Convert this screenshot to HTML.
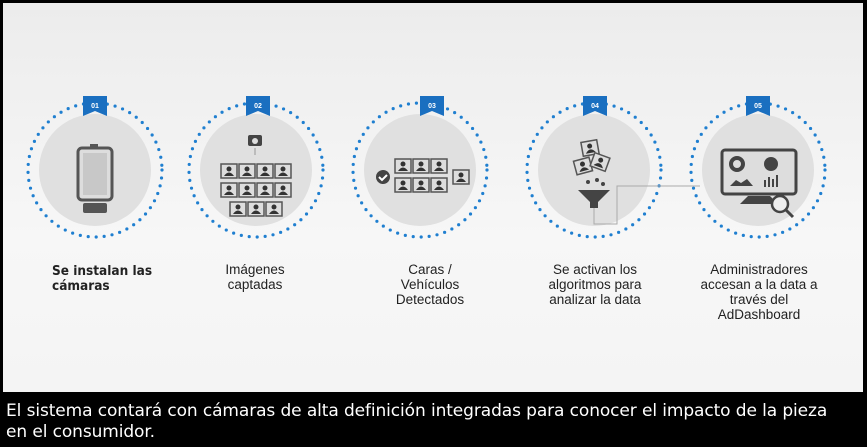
<!DOCTYPE html>
<html><head><meta charset="utf-8"><style>
body{margin:0;width:867px;height:447px;overflow:hidden;background:#000;font-family:"Liberation Sans",sans-serif}
#main{position:absolute;left:3px;top:3px;width:860px;height:389px;background:linear-gradient(#ececec,#f7f7f7 60%,#f4f4f4)}
.lbl{position:absolute;width:150px;text-align:center;font-size:13.5px;line-height:15px;color:#222}
#cap{position:absolute;left:6px;top:401px;color:#fff;font-size:17px;line-height:21px;font-family:"DejaVu Sans","Liberation Sans",sans-serif;letter-spacing:-0.1px}
</style></head><body>
<div id="main"></div>
<svg width="867" height="447" style="position:absolute;left:0;top:0">
<defs>
<g id="ring"><circle r="67" fill="none" stroke="#1f7fd0" stroke-width="3.2" stroke-linecap="round" stroke-dasharray="0 8"/><circle r="56" fill="#e0e0e0"/></g>
<g id="rib"><path d="M-12,-11 H12 V9 L0,4 L-12,9Z" fill="#1a6fc0"/></g>
<g id="ph"><rect x="-8" y="-7" width="16" height="14" fill="#ddd" stroke="#555" stroke-width="1.5"/><circle cx="0" cy="-2" r="2.5" fill="#333"/><path d="M-5,5 Q0,-2 5,5Z" fill="#333"/></g>
</defs>
<use href="#ring" x="95" y="170"/><use href="#ring" x="256" y="170"/><use href="#ring" x="420" y="170"/><use href="#ring" x="594" y="170"/><use href="#ring" x="758" y="170"/>
<g font-size="7" font-weight="bold" fill="#fff" text-anchor="middle">
<use href="#rib" x="95" y="107"/><text x="95" y="108">01</text>
<use href="#rib" x="258" y="107"/><text x="258" y="108">02</text>
<use href="#rib" x="432" y="107"/><text x="432" y="108">03</text>
<use href="#rib" x="595" y="107"/><text x="595" y="108">04</text>
<use href="#rib" x="758" y="107"/><text x="758" y="108">05</text>
</g>
<rect x="78" y="148" width="34" height="52" rx="4" fill="#ddd" stroke="#555" stroke-width="3"/>
<rect x="83" y="153" width="24" height="42" fill="#c8c8c8"/>
<rect x="90" y="144" width="8" height="5" fill="#555"/>
<rect x="83" y="203" width="24" height="10" rx="2" fill="#555"/>
<rect x="248" y="135" width="14" height="11" rx="2" fill="#444"/><circle cx="255" cy="141" r="3" fill="#ddd"/>
<path d="M255,148 V155" stroke="#999"/>
<use href="#ph" x="229" y="171"/><use href="#ph" x="247" y="171"/><use href="#ph" x="265" y="171"/><use href="#ph" x="283" y="171"/>
<use href="#ph" x="229" y="190"/><use href="#ph" x="247" y="190"/><use href="#ph" x="265" y="190"/><use href="#ph" x="283" y="190"/>
<use href="#ph" x="238" y="209"/><use href="#ph" x="256" y="209"/><use href="#ph" x="274" y="209"/>
<circle cx="383" cy="177" r="7" fill="#444"/><path d="M379,177 l3,3 l5,-5" stroke="#fff" stroke-width="2" fill="none"/>
<use href="#ph" x="403" y="166"/><use href="#ph" x="421" y="166"/><use href="#ph" x="439" y="166"/>
<use href="#ph" x="403" y="185"/><use href="#ph" x="421" y="185"/><use href="#ph" x="439" y="185"/><use href="#ph" x="461" y="177"/>
<use href="#ph" x="590" y="148" transform="rotate(-10 590 148)"/><use href="#ph" x="583" y="166" transform="rotate(-15 583 166)"/><use href="#ph" x="600" y="162" transform="rotate(20 600 162)"/>
<path d="M578,190 H610 L598,202 V208 H590 V202Z" fill="#444"/>
<circle cx="588" cy="182" r="2" fill="#444"/><circle cx="597" cy="180" r="2" fill="#444"/><circle cx="603" cy="184" r="2" fill="#444"/>
<path d="M594,208 V224 H617 V186 H700" stroke="#aaa" fill="none"/>
<rect x="722" y="150" width="74" height="44" rx="3" fill="#ddd" stroke="#444" stroke-width="3"/>
<path d="M748,196 L740,204 H778 L770,196Z" fill="#444"/>
<circle cx="737" cy="164" r="6" fill="none" stroke="#444" stroke-width="4"/><circle cx="771" cy="164" r="7" fill="#444"/>
<path d="M730,186 l6,-6 l5,3 l6,-4 l6,7Z" fill="#444"/><path d="M765,187 V180 M769,187 V177 M773,187 V179 M777,187 V175" stroke="#444" stroke-width="2"/>
<circle cx="780" cy="204" r="8" fill="#eee" stroke="#444" stroke-width="2.5"/><path d="M786,210 L793,217" stroke="#444" stroke-width="3"/>
</svg>
<div class="lbl" style="left:25px;top:264px;text-align:left;padding-left:27px;width:120px;font-weight:bold;font-family:'DejaVu Sans Condensed',sans-serif;font-size:13.5px">Se instalan las cámaras</div>
<div class="lbl" style="left:180px;top:262px">Imágenes<br>captadas</div>
<div class="lbl" style="left:355px;top:262px">Caras /<br>Vehículos<br>Detectados</div>
<div class="lbl" style="left:520px;top:262px">Se activan los<br>algoritmos para<br>analizar la data</div>
<div class="lbl" style="left:684px;top:262px">Administradores<br>accesan a la data a<br>través del<br>AdDashboard</div>
<div id="cap">El sistema contará con cámaras de alta definición integradas para conocer el impacto de la pieza<br>en el consumidor.</div>
</body></html>
